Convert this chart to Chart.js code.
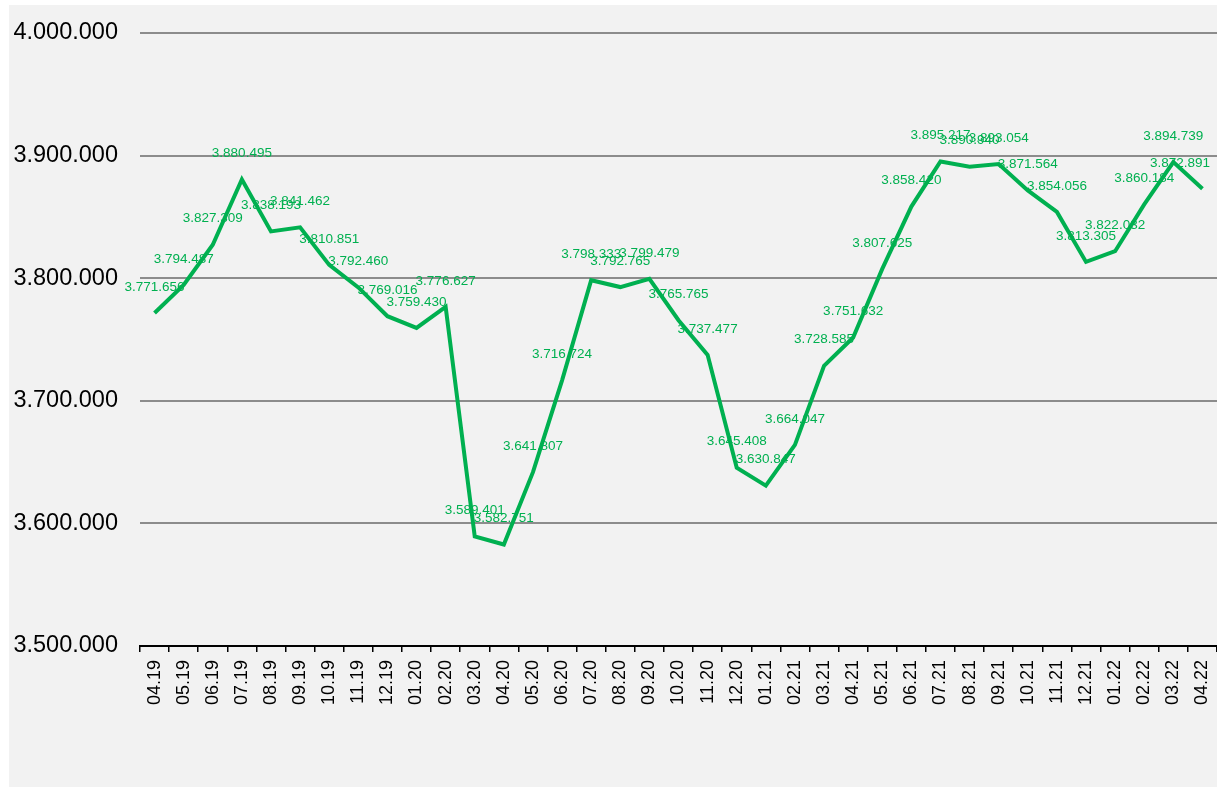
<!DOCTYPE html>
<html>
<head>
<meta charset="utf-8">
<script src="https://cdn.jsdelivr.net/npm/chart.js@4.4.1/dist/chart.umd.min.js"></script>
<style>
  html, body { margin: 0; padding: 0; background: #ffffff; }
  #wrap { width: 1217px; height: 787px; position: relative; }
</style>
</head>
<body>
<div id="wrap"><canvas id="c" width="1217" height="787"></canvas></div>
<script>
const categories = ["04.19","05.19","06.19","07.19","08.19","09.19","10.19","11.19","12.19","01.20","02.20","03.20","04.20","05.20","06.20","07.20","08.20","09.20","10.20","11.20","12.20","01.21","02.21","03.21","04.21","05.21","06.21","07.21","08.21","09.21","10.21","11.21","12.21","01.22","02.22","03.22","04.22"];
const seriesValues = [3771656,3794487,3827309,3880495,3838193,3841462,3810851,3792460,3769016,3759430,3776627,3589401,3582751,3641807,3716724,3798333,3792765,3799479,3765765,3737477,3645408,3630847,3664047,3728585,3751632,3807625,3858420,3895217,3890940,3893054,3871564,3854056,3813305,3822032,3860184,3894739,3872891];
const yMin = 3500000;
const yMax = 4000000;
const yStep = 100000;

function fmt(v) {
  return String(Math.round(v)).replace(/\B(?=(\d{3})+(?!\d))/g, ".");
}

const bgPlugin = {
  id: 'bg',
  beforeDraw(chart) {
    const ctx = chart.ctx;
    ctx.save();
    ctx.fillStyle = '#ffffff';
    ctx.fillRect(0, 0, chart.width, chart.height);
    ctx.fillStyle = '#f2f2f2';
    ctx.fillRect(9, 5, chart.width - 9, chart.height - 5);
    ctx.restore();
  }
};

const labelPlugin = {
  id: 'vlabels',
  afterDatasetsDraw(chart) {
    const ctx = chart.ctx;
    const meta = chart.getDatasetMeta(0);
    const data = chart.data.datasets[0].data;
    ctx.save();
    ctx.font = '13.5px "Liberation Sans", Arial, sans-serif';
    ctx.fillStyle = '#00b050';
    ctx.textAlign = 'center';
    ctx.textBaseline = 'middle';
    meta.data.forEach((pt, i) => {
      const txt = fmt(data[i]);
      const w = ctx.measureText(txt).width;
      let x = pt.x;
      const maxX = chart.width - 7 - w / 2;
      if (x > maxX) x = maxX;
      ctx.fillText(txt, x, pt.y - 26);
    });
    ctx.restore();
  }
};

new Chart(document.getElementById('c'), {
  type: 'line',
  data: {
    labels: categories,
    datasets: [{
      data: seriesValues,
      borderColor: '#00b050',
      borderWidth: 4,
      pointRadius: 0,
      pointHoverRadius: 0,
      tension: 0,
      fill: false,
      clip: false
    }]
  },
  options: {
    responsive: false,
    animation: false,
    devicePixelRatio: 1,
    layout: { padding: { top: 33, left: 0, right: 0, bottom: 0 } },
    plugins: { legend: { display: false }, tooltip: { enabled: false } },
    scales: {
      x: {
        offset: true,
        afterFit(scale) { scale.height = 141; scale.paddingRight = 0; scale.paddingLeft = 0; },
        grid: {
          display: true,
          drawOnChartArea: false,
          drawTicks: true,
          tickLength: 6,
          color: '#000000',
          lineWidth: 1.5,
          offset: true
        },
        border: { display: true, color: '#000000', width: 2 },
        ticks: {
          autoSkip: false,
          maxRotation: 90,
          minRotation: 90,
          padding: 8,
          color: '#000000',
          font: { family: '"Liberation Sans", Arial, sans-serif', size: 18 }
        }
      },
      y: {
        min: yMin,
        max: yMax,
        afterFit(scale) { scale.width = 140; scale.paddingTop = 0; scale.paddingBottom = 0; },
        grid: {
          color: '#8c8c8c',
          lineWidth: 2,
          drawTicks: false
        },
        border: { display: false },
        ticks: {
          stepSize: yStep,
          padding: 22,
          color: '#000000',
          font: { family: '"Liberation Sans", Arial, sans-serif', size: 23.5 },
          callback: (v) => fmt(v)
        }
      }
    }
  },
  plugins: [bgPlugin, labelPlugin]
});
</script>
</body>
</html>
